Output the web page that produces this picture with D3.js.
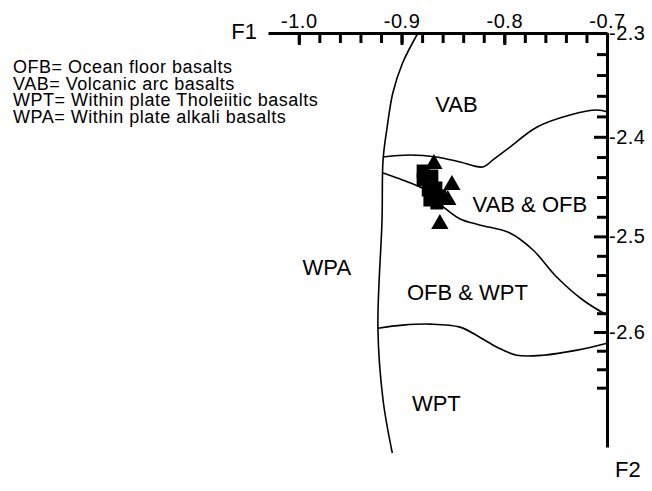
<!DOCTYPE html>
<html>
<head>
<meta charset="utf-8">
<script src="https://cdn.jsdelivr.net/npm/d3@7"></script>
<style>
  body { margin: 0; background: #fff; }
  svg { font-family: "Liberation Sans", Arial, sans-serif; }
</style>
</head>
<body>
<div id="plot"></div>
<script>
// Chart data
// F2 axis is logarithmic (tick gaps shrink downwards), F1 is linear

var xMajorTicks = [-1.0, -0.9, -0.8, -0.7];
var xMinorTicks = [-1.0, -0.98, -0.96, -0.94, -0.92, -0.9, -0.88, -0.86, -0.84, -0.82,
    -0.8, -0.78, -0.76, -0.74, -0.72, -0.7];
var yMajorTicks = [-2.3, -2.4, -2.5, -2.6];
var yMinorTicks = [-2.32, -2.34, -2.36, -2.38, -2.42, -2.44, -2.46, -2.48,
    -2.52, -2.54, -2.56, -2.58, -2.62, -2.64, -2.66];

// field boundaries [F1, F2]
var wpaLine = [[-0.884, -2.300], [-0.899, -2.3285], [-0.9085, -2.3573], [-0.914, -2.3904],
    [-0.918, -2.4229], [-0.919, -2.4832], [-0.923, -2.5959], [-0.918, -2.6735], [-0.909, -2.7322]];
var vabLine = [[-0.918, -2.4199], [-0.892, -2.4180], [-0.866, -2.4199], [-0.843, -2.4249],
    [-0.821, -2.4299], [-0.811, -2.4229], [-0.7945, -2.4101], [-0.768, -2.3904],
    [-0.736, -2.3787], [-0.710, -2.3738], [-0.699, -2.3757]];
var ofbLine = [[-0.918, -2.4359], [-0.899, -2.4429], [-0.877, -2.4529], [-0.858, -2.4711],
    [-0.843, -2.4822], [-0.824, -2.4883], [-0.7945, -2.4965], [-0.772, -2.5140],
    [-0.749, -2.5420], [-0.7235, -2.5661], [-0.700, -2.5821]];
var wptLine = [[-0.923, -2.5959], [-0.899, -2.5927], [-0.872, -2.5916], [-0.843, -2.5948],
    [-0.824, -2.6055], [-0.807, -2.6162], [-0.788, -2.6248], [-0.762, -2.6248],
    [-0.729, -2.6194], [-0.700, -2.6119]];

// samples
var squares = [[-0.879, -2.4339], [-0.879, -2.4429], [-0.8705, -2.4389], [-0.874, -2.4529],
    [-0.8666, -2.4509], [-0.8724, -2.4630], [-0.8656, -2.4660], [-0.8627, -2.4590]];
var triangles = [[-0.8685, -2.4269], [-0.851, -2.4479], [-0.855, -2.4630], [-0.8627, -2.4873]];

// field names and where they sit [F1, F2]
var fieldNames = ["VAB", "VAB & OFB", "OFB & WPT", "WPT", "WPA"];
var fieldX = [-0.8466, -0.7751, -0.8359, -0.8661, -0.9727];
var fieldY = [-2.3757, -2.4751, -2.5661, -2.6856, -2.5399];

var legendLines = ["OFB= Ocean floor basalts", "VAB= Volcanic arc basalts",
    "WPT= Within plate Tholeiitic basalts", "WPA= Within plate alkali basalts"];

var svgWidth = 652;
var svgHeight = 491;

var svg = d3.select("#plot")
    .append("svg")
    .attr("width", svgWidth)
    .attr("height", svgHeight);

// scales
var xScale = d3.scaleLinear()
    .domain([-1.03, -0.7])
    .range([268, 607]);

var yScale = d3.scaleLog()
    .domain([-2.3, -2.7255])
    .range([33, 447]);

var fmt = d => d.toFixed(1);

function styleLabels(g) {
    g.selectAll(".tick text")
        .attr("font-family", "Liberation Sans, Arial, sans-serif")
        .attr("font-size", 20)
        .attr("letter-spacing", 0.5)
        .attr("fill", "#000");
}

// top axis (F1)
svg.append("g")
    .attr("transform", "translate(0, 33)")
    .call(d3.axisTop(xScale).tickValues(xMinorTicks).tickSize(-10).tickSizeOuter(0).tickFormat(""))
    .call(g => g.select(".domain").attr("stroke-width", 3))
    .call(g => g.selectAll(".tick line").attr("stroke-width", 3));

svg.append("g")
    .attr("transform", "translate(0, 33)")
    .call(d3.axisTop(xScale).tickValues(xMajorTicks).tickSize(-12).tickSizeOuter(0).tickPadding(5).tickFormat(fmt))
    .call(g => g.select(".domain").remove())
    .call(g => g.selectAll(".tick line").attr("stroke-width", 3))
    .call(styleLabels);

// right axis (F2)
svg.append("g")
    .attr("transform", "translate(607, 0)")
    .call(d3.axisRight(yScale).tickValues(yMinorTicks).tickSize(-10).tickSizeOuter(0).tickFormat(""))
    .call(g => g.select(".domain").attr("stroke-width", 3))
    .call(g => g.selectAll(".tick line").attr("stroke-width", 3));

svg.append("g")
    .attr("transform", "translate(607, 0)")
    .call(d3.axisRight(yScale).tickValues(yMajorTicks).tickSize(-13).tickSizeOuter(0).tickPadding(2).tickFormat(fmt))
    .call(g => g.select(".domain").remove())
    .call(g => g.selectAll(".tick line").attr("stroke-width", 3))
    .call(styleLabels);

// axis names
svg.append("text")
    .attr("x", 257)
    .attr("y", 39)
    .attr("text-anchor", "end")
    .attr("font-size", 22)
    .text("F1");

svg.append("text")
    .attr("x", 615)
    .attr("y", 477)
    .attr("font-size", 22)
    .text("F2");

// boundaries
var line = d3.line()
    .x(d => xScale(d[0]))
    .y(d => yScale(d[1]))
    .curve(d3.curveCatmullRom.alpha(0.5));

svg.selectAll("path.field")
    .data([wpaLine, vabLine, ofbLine, wptLine])
    .enter()
    .append("path")
    .classed("field", true)
    .attr("d", line)
    .attr("fill", "none")
    .attr("stroke", "#000")
    .attr("stroke-width", 1.6);

// field labels
svg.selectAll("text.fieldName")
    .data(fieldNames)
    .enter()
    .append("text")
    .classed("fieldName", true)
    .attr("x", (d, i) => xScale(fieldX[i]))
    .attr("y", (d, i) => yScale(fieldY[i]))
    .attr("text-anchor", "middle")
    .attr("font-size", 22)
    .text(d => d);

// samples
svg.selectAll("path.square")
    .data(squares)
    .enter()
    .append("path")
    .classed("square", true)
    .attr("transform", d => `translate(${xScale(d[0])}, ${yScale(d[1])})`)
    .attr("d", d3.symbol().type(d3.symbolSquare).size(169))
    .attr("fill", "#000");

svg.selectAll("path.triangle")
    .data(triangles)
    .enter()
    .append("path")
    .classed("triangle", true)
    .attr("transform", d => `translate(${xScale(d[0])}, ${yScale(d[1])})`)
    .attr("d", d3.symbol().type(d3.symbolTriangle).size(130))
    .attr("fill", "#000");

// legend
svg.selectAll("text.legend")
    .data(legendLines)
    .enter()
    .append("text")
    .classed("legend", true)
    .attr("x", 13)
    .attr("y", (d, i) => 73 + i * 16.5)
    .attr("font-size", 18)
    .attr("letter-spacing", 0.5)
    .text(d => d);
</script>
</body>
</html>
